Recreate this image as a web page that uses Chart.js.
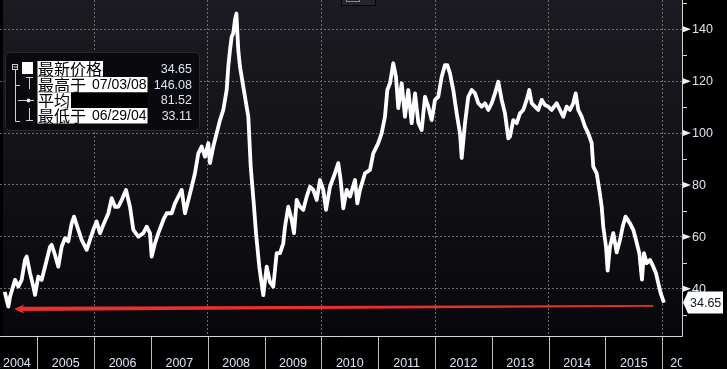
<!DOCTYPE html>
<html>
<head>
<meta charset="utf-8">
<style>
  html, body { margin: 0; padding: 0; background: #000; overflow: hidden; }
  canvas { display: block; }
</style>
<script src="https://cdn.jsdelivr.net/npm/chart.js@4.4.1/dist/chart.umd.min.js"></script>
</head>
<body>
<canvas id="chart" width="727" height="369"></canvas>
<script>
// price series, x = fractional year
const years = [
  2004.427, 2004.490, 2004.520, 2004.608, 2004.666, 2004.725, 2004.784, 2004.813, 2004.872, 2004.930, 2004.960,
  2005.018, 2005.077, 2005.136, 2005.224, 2005.253, 2005.312, 2005.370, 2005.429, 2005.488, 2005.546, 2005.605, 2005.646, 2005.722, 2005.781, 2005.869, 2005.927, 2005.986,
  2006.045, 2006.103, 2006.162, 2006.250, 2006.309, 2006.367, 2006.426, 2006.485, 2006.561, 2006.631, 2006.690, 2006.778, 2006.866, 2006.925, 2006.983,
  2007.013, 2007.071, 2007.130, 2007.218, 2007.277, 2007.365, 2007.423, 2007.511, 2007.541, 2007.599, 2007.658, 2007.717, 2007.775, 2007.834, 2007.893, 2007.951,
  2008.009, 2008.039, 2008.097, 2008.157, 2008.215, 2008.273, 2008.333, 2008.361, 2008.391, 2008.421, 2008.449, 2008.479, 2008.504, 2008.537, 2008.567, 2008.625, 2008.714, 2008.756, 2008.814, 2008.849, 2008.907, 2008.977,
  2009.037, 2009.095, 2009.153, 2009.213, 2009.271, 2009.329, 2009.359, 2009.417, 2009.477, 2009.518, 2009.565, 2009.623, 2009.681, 2009.741, 2009.799, 2009.857, 2009.917, 2009.975,
  2010.033, 2010.081, 2010.151, 2010.239, 2010.297, 2010.339, 2010.385, 2010.445, 2010.503, 2010.591, 2010.632, 2010.679, 2010.767, 2010.855, 2010.913,
  2011.001, 2011.061, 2011.119, 2011.160, 2011.207, 2011.265, 2011.313, 2011.353, 2011.413, 2011.471, 2011.529, 2011.589, 2011.648, 2011.706, 2011.765, 2011.824, 2011.881, 2011.941, 2011.999,
  2012.057, 2012.117, 2012.175, 2012.216, 2012.263, 2012.321, 2012.381, 2012.439, 2012.469, 2012.527, 2012.585, 2012.645, 2012.703, 2012.761, 2012.821, 2012.879, 2012.937, 2012.997,
  2013.055, 2013.113, 2013.173, 2013.231, 2013.289, 2013.319, 2013.377, 2013.437, 2013.495, 2013.553, 2013.613, 2013.659, 2013.701, 2013.759, 2013.817, 2013.877, 2013.935, 2013.993,
  2014.053, 2014.141, 2014.199, 2014.257, 2014.317, 2014.375, 2014.433, 2014.475, 2014.521, 2014.581, 2014.639, 2014.697, 2014.757, 2014.785, 2014.845, 2014.891, 2014.933, 2014.961,
  2015.009, 2015.038, 2015.079, 2015.137, 2015.197, 2015.255, 2015.303, 2015.352, 2015.431, 2015.489, 2015.537, 2015.595, 2015.642, 2015.677, 2015.725, 2015.783, 2015.841, 2015.889, 2015.929, 2015.971, 2016.029
];
const prices = [
  38.8, 33.1, 36.9, 43.4, 40.8, 43.4, 51.1, 52.4, 46.0, 40.8, 37.6,
  44.7, 43.4, 48.5, 56.2, 56.9, 53.0, 48.5, 56.2, 59.5, 58.2, 65.2, 67.8, 62.7, 58.8, 55.0, 58.8, 62.7,
  65.9, 61.4, 64.6, 69.1, 74.9, 71.6, 71.6, 74.2, 78.1, 71.6, 62.7, 60.1, 61.4, 63.9, 61.4,
  52.4, 57.5, 61.4, 66.5, 69.1, 69.1, 72.9, 76.8, 78.1, 69.1, 74.2, 79.3, 84.5, 92.2, 94.8, 90.9,
  96.1, 88.4, 94.8, 99.9, 105.0, 108.9, 116.6, 125.6, 132.0, 137.1, 138.5, 143.6, 146.08, 132.0, 125.6, 117.9, 106.3, 87.1, 71.6, 61.4, 48.5, 37.5,
  48.5, 42.5, 40.8, 53.7, 53.7, 57.5, 63.9, 71.6, 66.5, 61.4, 74.2, 71.6, 70.4, 75.5, 79.3, 78.1, 74.2, 81.9,
  78.1, 70.4, 79.3, 84.5, 88.4, 81.9, 71.0, 78.1, 75.5, 81.9, 72.9, 78.1, 84.5, 85.8, 92.2,
  96.1, 100.0, 106.3, 116.6, 119.2, 126.9, 121.7, 109.6, 119.2, 106.3, 116.6, 103.8, 115.3, 104.0, 101.2, 114.0, 110.2, 105.0, 112.8,
  114.0, 121.7, 126.2, 126.2, 123.0, 116.6, 107.6, 99.9, 90.4, 103.8, 114.0, 116.6, 115.3, 111.5, 110.2, 111.5, 108.9, 111.5,
  115.3, 119.8, 112.8, 107.6, 98.0, 98.6, 105.0, 103.8, 107.6, 108.9, 112.8, 116.6, 111.5, 110.2, 108.9, 112.8, 110.8, 110.2,
  108.9, 111.5, 108.9, 106.3, 110.2, 108.9, 111.5, 115.3, 108.9, 106.3, 102.5, 99.9, 96.1, 87.1, 84.5, 78.1, 71.6, 63.9,
  56.2, 47.0, 56.2, 61.4, 54.0, 58.8, 63.9, 67.8, 65.2, 62.7, 58.8, 53.7, 43.5, 53.7, 49.8, 51.1, 48.5, 46.0, 42.1, 38.3, 34.65
];

const yearLabels = ['2004', '2005', '2006', '2007', '2008', '2009', '2010', '2011', '2012', '2013', '2014', '2015', '2016'];
const gridYears = [2006, 2008, 2010, 2012, 2014, 2016];
const yTicks = [40, 60, 80, 100, 120, 140];
const yMinorTicks = [30, 50, 70, 90, 110, 130, 150];

const legendNames = ['最新价格', '最高于', '平均', '最低于'];
const legendDates = ['', '07/03/08', '', '06/29/04'];
const legendValues = ['34.65', '146.08', '81.52', '33.11'];
const lastPrice = 34.65;

// red arrow, drawn from right to left (year, price)
const arrowFrom = [2015.84, 33.4];
const arrowTo = [2004.59, 32.2];

const LAT = "'Liberation Sans', Arial, sans-serif";
const CJK = "'Noto Sans CJK SC', sans-serif";
const TXT = '#dbe4f0';

const deco = {
  id: 'deco',
  beforeDraw(chart) {
    const { ctx, chartArea: a } = chart;
    ctx.save();
    ctx.fillStyle = '#000';
    ctx.fillRect(0, 0, chart.width, chart.height);
    const g = ctx.createLinearGradient(0, a.top, 0, a.bottom);
    g.addColorStop(0, '#1c1b21');
    g.addColorStop(1, '#08080c');
    ctx.fillStyle = g;
    ctx.fillRect(a.left + 3, a.top, a.right - a.left - 3, a.bottom - a.top);
    ctx.restore();
  },
  afterDatasetsDraw(chart) {
    const { ctx, chartArea: a } = chart;
    const xs = chart.scales.x, ys = chart.scales.y;
    ctx.save();

    // red arrow, tapering to the right
    const x1 = xs.getPixelForValue(arrowFrom[0]), y1 = ys.getPixelForValue(arrowFrom[1]);
    const x2 = xs.getPixelForValue(arrowTo[0]), y2 = ys.getPixelForValue(arrowTo[1]);
    ctx.fillStyle = '#e8302d';
    ctx.beginPath();
    ctx.moveTo(x1, y1 - 0.8);
    ctx.lineTo(x2 + 8, y2 - 2.1);
    ctx.lineTo(x2 + 8, y2 + 2.1);
    ctx.lineTo(x1, y1 + 0.8);
    ctx.closePath();
    ctx.fill();
    ctx.beginPath();
    ctx.moveTo(x2, y2);
    ctx.lineTo(x2 + 10, y2 - 4.5);
    ctx.lineTo(x2 + 8, y2);
    ctx.lineTo(x2 + 10, y2 + 4.5);
    ctx.closePath();
    ctx.fill();

    // axis lines
    ctx.strokeStyle = '#d4d4d4';
    ctx.lineWidth = 1;
    ctx.beginPath();
    ctx.moveTo(a.right + 0.5, 0);
    ctx.lineTo(a.right + 0.5, a.bottom + 0.5);
    ctx.lineTo(0, a.bottom + 0.5);
    ctx.stroke();

    // y ticks and labels
    yMinorTicks.forEach(v => {
      const y = Math.round(ys.getPixelForValue(v)) + 0.5;
      ctx.beginPath();
      ctx.moveTo(a.right, y);
      ctx.lineTo(a.right + 5, y);
      ctx.stroke();
    });
    ctx.font = `12.5px ${LAT}`;
    ctx.textBaseline = 'middle';
    ctx.textAlign = 'left';
    yTicks.forEach(v => {
      const y = ys.getPixelForValue(v);
      ctx.fillStyle = '#f0f0f0';
      ctx.beginPath();
      ctx.moveTo(a.right + 1, y - 3);
      ctx.lineTo(a.right + 9, y);
      ctx.lineTo(a.right + 1, y + 3);
      ctx.closePath();
      ctx.fill();
      ctx.fillStyle = TXT;
      ctx.fillText(String(v), a.right + 10, y + 0.5);
    });

    // last price tag
    const ty = ys.getPixelForValue(lastPrice);
    ctx.fillStyle = '#ffffff';
    ctx.beginPath();
    ctx.moveTo(a.right + 1, ty);
    ctx.lineTo(a.right + 6, ty - 11);
    ctx.lineTo(723, ty - 11);
    ctx.lineTo(723, ty + 11);
    ctx.lineTo(a.right + 6, ty + 11);
    ctx.closePath();
    ctx.fill();
    ctx.fillStyle = '#0c1426';
    ctx.fillText(lastPrice.toFixed(2), a.right + 8, ty + 0.5);

    // year separators and labels
    ctx.strokeStyle = '#bdbdbd';
    for (let i = 1; i < yearLabels.length; i++) {
      const x = Math.round(xs.getPixelForValue(+yearLabels[i])) + 0.5;
      ctx.beginPath();
      ctx.moveTo(x, a.bottom + 1);
      ctx.lineTo(x, chart.height);
      ctx.stroke();
    }
    ctx.save();
    ctx.beginPath();
    ctx.rect(0, a.bottom + 1, a.right, chart.height - a.bottom);
    ctx.clip();
    ctx.fillStyle = TXT;
    ctx.textBaseline = 'alphabetic';
    yearLabels.forEach((lab, i) => {
      const yr = +lab;
      const w = ctx.measureText(lab).width;
      let cx = (xs.getPixelForValue(yr) + xs.getPixelForValue(yr + 1)) / 2;
      if (i === 0) cx = Math.max(cx, w / 2 + 3);
      if (i === yearLabels.length - 1) cx = xs.getPixelForValue(yr) + 8 + w / 2;
      ctx.textAlign = 'center';
      ctx.fillText(lab, cx, 366.5);
    });
    ctx.restore();

    // legend
    drawLegend(ctx);

    // small button at the top
    ctx.fillStyle = '#25242a';
    ctx.fillRect(341, 0, 35, 6);
    ctx.strokeStyle = '#050505';
    ctx.strokeRect(341.5, -1, 34, 6.5);
    ctx.strokeStyle = '#8a8a8a';
    ctx.strokeRect(346.5, -1, 13, 2.5);

    ctx.restore();
  }
};

function drawLegend(ctx) {
  ctx.save();
  ctx.fillStyle = '#0a0a0e';
  ctx.strokeStyle = '#2a292f';
  ctx.beginPath();
  ctx.roundRect(5.5, 52.5, 194, 78, 4);
  ctx.fill();
  ctx.stroke();

  const rows = [69, 85, 100.5, 116];
  ctx.textBaseline = 'middle';
  rows.forEach((cy, i) => {
    ctx.font = `16px ${CJK}`;
    const nameW = ctx.measureText(legendNames[i]).width;
    let end = 38 + nameW;
    let dateX = 0;
    if (legendDates[i]) {
      dateX = end + 6;
      ctx.font = `14px ${LAT}`;
      end = dateX + ctx.measureText(legendDates[i]).width;
    }
    ctx.fillStyle = '#ffffff';
    ctx.fillRect(37.5, cy - 8, end - 37.5 + 1, 15.5);
    if (i === 2) {
      ctx.fillStyle = '#000';
      ctx.fillRect(end + 1, cy - 8, 147.5 - end - 1, 15.5);
    }
    ctx.fillStyle = '#000';
    ctx.textAlign = 'left';
    ctx.font = `16px ${CJK}`;
    ctx.fillText(legendNames[i], 38, cy);
    if (legendDates[i]) {
      ctx.font = `14px ${LAT}`;
      ctx.fillText(legendDates[i], dateX, cy + 0.5);
    }
    ctx.fillStyle = TXT;
    ctx.textAlign = 'right';
    ctx.font = `12.5px ${LAT}`;
    ctx.fillText(legendValues[i], 192, cy + 0.5);
  });

  // tree icons
  ctx.strokeStyle = '#cfcfcf';
  ctx.lineWidth = 1;
  ctx.strokeRect(12.5, 64.5, 5, 5);
  ctx.beginPath();
  ctx.moveTo(13.5, 67); ctx.lineTo(17, 67);
  ctx.moveTo(15.5, 70); ctx.lineTo(15.5, 121.5); ctx.lineTo(20, 121.5);
  ctx.moveTo(15.5, 85.5); ctx.lineTo(20, 85.5);
  ctx.moveTo(18, 100.5); ctx.lineTo(34, 100.5);
  // high marker
  ctx.moveTo(26, 77.5); ctx.lineTo(33, 77.5);
  ctx.moveTo(29.5, 77.5); ctx.lineTo(29.5, 89);
  // low marker
  ctx.moveTo(29.5, 108); ctx.lineTo(29.5, 120);
  ctx.moveTo(26, 120.5); ctx.lineTo(33, 120.5);
  ctx.stroke();
  ctx.fillStyle = '#e8e8e8';
  ctx.beginPath();
  ctx.arc(28.5, 100.5, 2, 0, Math.PI * 2);
  ctx.fill();
  ctx.fillStyle = '#ffffff';
  ctx.fillRect(22, 62, 11, 12);
  ctx.restore();
}

const ctx = document.getElementById('chart').getContext('2d');
new Chart(ctx, {
  type: 'line',
  data: {
    datasets: [{
      data: years.map((t, i) => ({ x: t, y: prices[i] })),
      borderColor: '#ffffff',
      borderWidth: 3.8,
      borderJoinStyle: 'round',
      pointRadius: 0,
      tension: 0
    }]
  },
  options: {
    responsive: false,
    animation: false,
    devicePixelRatio: 1,
    layout: { padding: 0 },
    plugins: { legend: { display: false }, tooltip: { enabled: false } },
    scales: {
      x: {
        type: 'linear',
        position: 'bottom',
        min: 2004.3435,
        max: 2016.3464,
        afterBuildTicks: s => { s.ticks = gridYears.map(v => ({ value: v })); },
        afterFit: s => { s.height = 33; },
        ticks: { display: false },
        grid: { color: '#6c6c6c', lineWidth: 1, drawTicks: false },
        border: { display: false, dash: [2, 2] }
      },
      y: {
        type: 'linear',
        position: 'right',
        min: 21.77,
        max: 151.3,
        afterBuildTicks: s => { s.ticks = yTicks.map(v => ({ value: v })); },
        afterFit: s => { s.width = 45; },
        ticks: { display: false },
        grid: { color: '#6c6c6c', lineWidth: 1, drawTicks: false },
        border: { display: false, dash: [2, 2] }
      }
    }
  },
  plugins: [deco]
});
</script>
</body>
</html>
